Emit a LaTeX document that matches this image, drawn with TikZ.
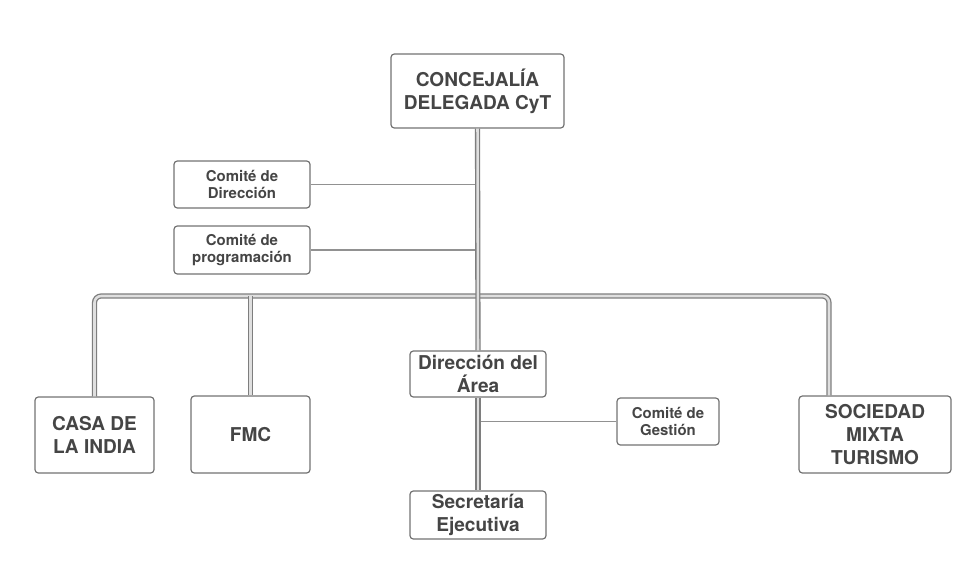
\documentclass[tikz,border=0pt]{standalone}
\usepackage{fontspec}
\setmainfont{TeX Gyre Heros}
\definecolor{textgray}{HTML}{454545}
\definecolor{boxgray}{HTML}{737373}
\definecolor{linegray}{HTML}{7E7E7E}
\tikzset{
	orgbox/.style={draw=boxgray, line width=0.9pt, rounded corners=2.5pt, fill=white,
		align=center, text=textgray, font=\fontsize{14.3}{17}\selectfont\bfseries, inner sep=2pt},
	comitebox/.style={orgbox, font=\fontsize{11.2}{12.75}\selectfont\bfseries},
	dobleline/.style={draw=linegray, line width=1pt, double=gray!25, double distance=1.9pt},
	simpleline/.style={draw=linegray!85, line width=1pt}
}
\begin{document}
\begin{tikzpicture}[x=0.75pt, y=-0.75pt]
	\useasboundingbox (0, 0) rectangle (969, 563);
	% cajas
	\node[orgbox, minimum width=129.75pt, minimum height=55.5pt] (conc) at (477.5, 91) {CONCEJALÍA\\DELEGADA CyT};
	\node[comitebox, minimum width=102pt, minimum height=35.25pt] (cdir) at (242, 184.5) {Comité de\\Dirección};
	\node[comitebox, minimum width=102pt, minimum height=36pt] (cprog) at (242, 250) {Comité de\\programación};
	\node[orgbox, minimum width=89.25pt, minimum height=57pt] (casa) at (94.5, 435) {CASA DE\\LA INDIA};
	\node[orgbox, minimum width=89.25pt, minimum height=57.75pt] (fmc) at (250.5, 434.5) {FMC};
	\node[orgbox, minimum width=102pt, minimum height=34.5pt] (dir) at (478, 374) {Dirección del\\Área};
	\node[comitebox, minimum width=76.5pt, minimum height=35.25pt] (cgest) at (668, 421.5) {Comité de\\Gestión};
	\node[orgbox, minimum width=114pt, minimum height=57.75pt] (soc) at (875, 434.5) {SOCIEDAD\\MIXTA\\TURISMO};
	\node[orgbox, minimum width=102pt, minimum height=36pt] (sec) at (478, 515) {Secretaría\\Ejecutiva};
	\coordinate (bus) at (478, 296);
	\coordinate (socup) at ([xshift=-34.5pt]soc.north);
	% lineas
	\draw[simpleline] (cdir.east) -- (cdir.east -| conc.south);
	\draw[simpleline] (cprog.east) -- (cprog.east -| conc.south);
	\draw[simpleline] (cgest.west) -- (cgest.west -| dir.south);
	\draw[dobleline, rounded corners=5pt] (casa.north) |- (bus) -| (socup);
	\draw[dobleline] (fmc.north) -- (fmc.north |- bus);
	\draw[dobleline] (conc.south) -- (dir.north);
	\draw[dobleline] (dir.south) -- (sec.north);
\end{tikzpicture}
\end{document}
